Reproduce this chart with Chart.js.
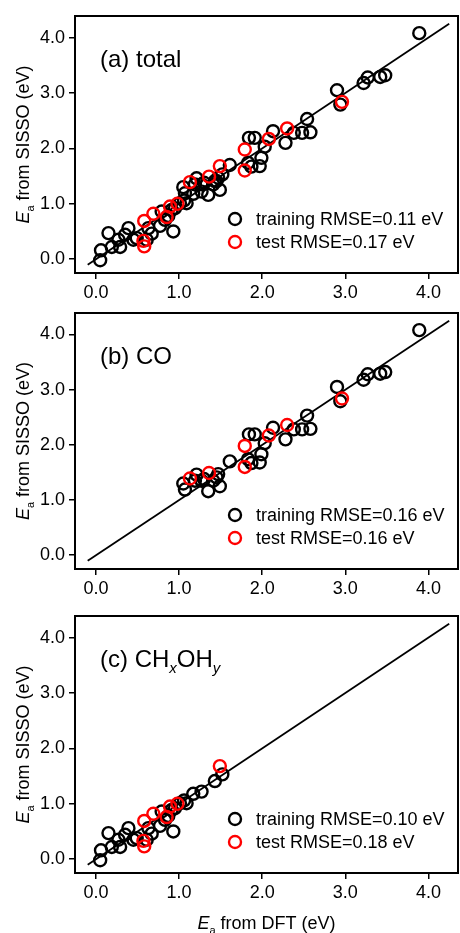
<!DOCTYPE html>
<html>
<head>
<meta charset="utf-8">
<script src="https://cdn.jsdelivr.net/npm/chart.js@4.4.0/dist/chart.umd.min.js"></script>
<style>
  body { margin: 0; background: #fff; width: 460px; height: 933px; position: relative; overflow: hidden; }
  canvas { position: absolute; left: 0; }
</style>
</head>
<body>
<canvas id="chartA" width="460" height="300" style="top:0px"></canvas>
<canvas id="chartB" width="460" height="300" style="top:297px"></canvas>
<canvas id="chartC" width="460" height="333" style="top:600px"></canvas>
<script>
// CO reactions (x = DFT, y = SISSO)
const coTrainX = [1.05, 1.07, 1.19, 1.21, 1.27, 1.30, 1.35, 1.41, 1.45, 1.47, 1.49, 1.61, 1.83, 1.84, 1.87, 1.91, 1.97, 1.99, 2.03, 2.13, 2.28, 2.38, 2.48, 2.58, 2.54, 2.90, 2.94, 3.22, 3.27, 3.42, 3.48, 3.89];
const coTrainY = [1.30, 1.19, 1.35, 1.46, 1.35, 1.38, 1.16, 1.35, 1.41, 1.47, 1.25, 1.70, 1.74, 2.19, 1.67, 2.19, 1.68, 1.83, 2.03, 2.31, 2.10, 2.28, 2.28, 2.29, 2.53, 3.05, 2.79, 3.18, 3.28, 3.29, 3.32, 4.08];
const coTestX = [1.13, 1.36, 1.79, 1.79, 2.08, 2.30, 2.96];
const coTestY = [1.39, 1.49, 1.98, 1.60, 2.17, 2.36, 2.84];

// CHxOHy reactions
const chTrainX = [0.05, 0.06, 0.15, 0.19, 0.27, 0.29, 0.35, 0.39, 0.45, 0.49, 0.61, 0.63, 0.67, 0.77, 0.79, 0.83, 0.87, 0.91, 0.93, 0.95, 1.01, 1.06, 1.09, 1.17, 1.27, 1.43, 1.52];
const chTrainY = [-0.02, 0.16, 0.47, 0.22, 0.35, 0.22, 0.44, 0.56, 0.35, 0.38, 0.35, 0.56, 0.46, 0.60, 0.86, 0.71, 0.78, 0.89, 0.50, 0.92, 1.01, 1.06, 1.01, 1.18, 1.22, 1.41, 1.53];
const chTestX = [0.58, 0.69, 0.57, 0.58, 0.85, 0.89, 0.98, 1.49];
const chTestY = [0.69, 0.82, 0.33, 0.23, 0.76, 0.95, 1.00, 1.68];

// parity line y = x
const parityX = [-0.1, 4.25];

const tickValues = [0, 1, 2, 3, 4];
const trainRmse = [0.11, 0.16, 0.10];
const testRmse = [0.17, 0.16, 0.18];

const FONT = '"Liberation Sans", Arial, sans-serif';

function toPoints(xs, ys) {
    return xs.map((x, i) => ({ x: x, y: ys[i] }));
}

// draw a row of text pieces (italic / subscript) starting at x, baseline y
function drawRuns(ctx, runs, x, y, size, align) {
    const fontFor = r => (r.it ? 'italic ' : '') + Math.round(r.sub ? size * 0.62 : size) + 'px ' + FONT;
    let total = 0;
    runs.forEach(r => { ctx.font = fontFor(r); total += ctx.measureText(r.t).width; });
    let cx = align === 'center' ? x - total / 2 : x;
    ctx.textAlign = 'left';
    ctx.textBaseline = 'alphabetic';
    runs.forEach(r => {
        ctx.font = fontFor(r);
        ctx.fillText(r.t, cx, r.sub ? y + size * 0.25 : y);
        cx += ctx.measureText(r.t).width;
    });
}

const decorPlugin = {
    id: 'decor',
    afterDraw(chart, args, opts) {
        const ctx = chart.ctx;
        const a = chart.chartArea;
        ctx.save();
        ctx.fillStyle = '#000';
        // frame
        ctx.strokeStyle = '#000';
        ctx.lineWidth = 2;
        ctx.strokeRect(a.left, a.top, a.right - a.left, a.bottom - a.top);
        // panel label
        drawRuns(ctx, opts.label, a.left + 25, a.top + 51, 24, 'left');
        // legend
        const sets = chart.data.datasets.filter(d => d.legendText);
        sets.forEach((d, i) => {
            const ly = a.bottom - 54 + i * 23;
            ctx.beginPath();
            ctx.lineWidth = 2.4;
            ctx.strokeStyle = d.borderColor;
            ctx.arc(a.left + 160, ly, 6, 0, Math.PI * 2);
            ctx.stroke();
            ctx.font = '18px ' + FONT;
            ctx.textBaseline = 'middle';
            ctx.textAlign = 'left';
            ctx.fillText(d.legendText, a.left + 181, ly + 1);
        });
        // y title
        ctx.save();
        ctx.translate(29, (a.top + a.bottom) / 2);
        ctx.rotate(-Math.PI / 2);
        drawRuns(ctx, [{ t: 'E', it: true }, { t: 'a', sub: true }, { t: ' from SISSO (eV)' }], 0, 0, 18, 'center');
        ctx.restore();
        // x title
        if (opts.xTitle) {
            drawRuns(ctx, [{ t: 'E', it: true }, { t: 'a', sub: true }, { t: ' from DFT (eV)' }],
                (a.left + a.right) / 2, chart.height - 4, 18, 'center');
        }
        ctx.restore();
    }
};

function makePanel(id, train, test, idx, label, bottomSpace, xTitle) {
    const axisCommon = {
        type: 'linear',
        grid: { drawOnChartArea: false, drawTicks: true, tickLength: 6, color: '#000', lineWidth: 1.5 },
        border: { display: false },
        ticks: { color: '#000', font: { family: FONT, size: 18 }, callback: v => v.toFixed(1) },
        afterBuildTicks: s => { s.ticks = tickValues.map(v => ({ value: v })); }
    };
    return new Chart(document.getElementById(id), {
        type: 'scatter',
        data: {
            datasets: [
                {
                    data: toPoints(train.x, train.y),
                    legendText: 'training RMSE=' + trainRmse[idx].toFixed(2) + ' eV',
                    borderColor: '#000',
                    backgroundColor: 'rgba(0,0,0,0)',
                    pointRadius: 6,
                    borderWidth: 2.4,
                    order: 2
                },
                {
                    data: toPoints(test.x, test.y),
                    legendText: 'test RMSE=' + testRmse[idx].toFixed(2) + ' eV',
                    borderColor: '#ff0000',
                    backgroundColor: 'rgba(0,0,0,0)',
                    pointRadius: 6,
                    borderWidth: 2.4,
                    order: 1
                },
                {
                    type: 'line',
                    data: toPoints(parityX, parityX),
                    borderColor: '#000',
                    borderWidth: 1.8,
                    pointRadius: 0,
                    fill: false,
                    order: 3
                }
            ]
        },
        options: {
            responsive: false,
            animation: false,
            devicePixelRatio: 1,
            layout: { autoPadding: false, padding: { top: 16, right: 2, left: 0, bottom: 0 } },
            scales: {
                x: Object.assign({}, axisCommon, {
                    min: -0.253, max: 4.356,
                    ticks: Object.assign({}, axisCommon.ticks, { padding: 3, maxRotation: 0 }),
                    afterFit: s => { s.height = bottomSpace; }
                }),
                y: Object.assign({}, axisCommon, {
                    min: -0.25, max: 4.39,
                    ticks: Object.assign({}, axisCommon.ticks, { padding: 4 }),
                    afterFit: s => { s.width = 75; }
                })
            },
            plugins: {
                legend: { display: false },
                tooltip: { enabled: false },
                decor: { label: label, xTitle: xTitle }
            }
        },
        plugins: [decorPlugin]
    });
}

makePanel('chartA',
    { x: coTrainX.concat(chTrainX), y: coTrainY.concat(chTrainY) },
    { x: coTestX.concat(chTestX), y: coTestY.concat(chTestY) },
    0, [{ t: '(a) total' }], 27, false);

makePanel('chartB',
    { x: coTrainX, y: coTrainY },
    { x: coTestX, y: coTestY },
    1, [{ t: '(b) CO' }], 28, false);

makePanel('chartC',
    { x: chTrainX, y: chTrainY },
    { x: chTestX, y: chTestY },
    2, [{ t: '(c) CH' }, { t: 'x', it: true, sub: true }, { t: 'OH' }, { t: 'y', it: true, sub: true }], 60, true);
</script>
</body>
</html>
